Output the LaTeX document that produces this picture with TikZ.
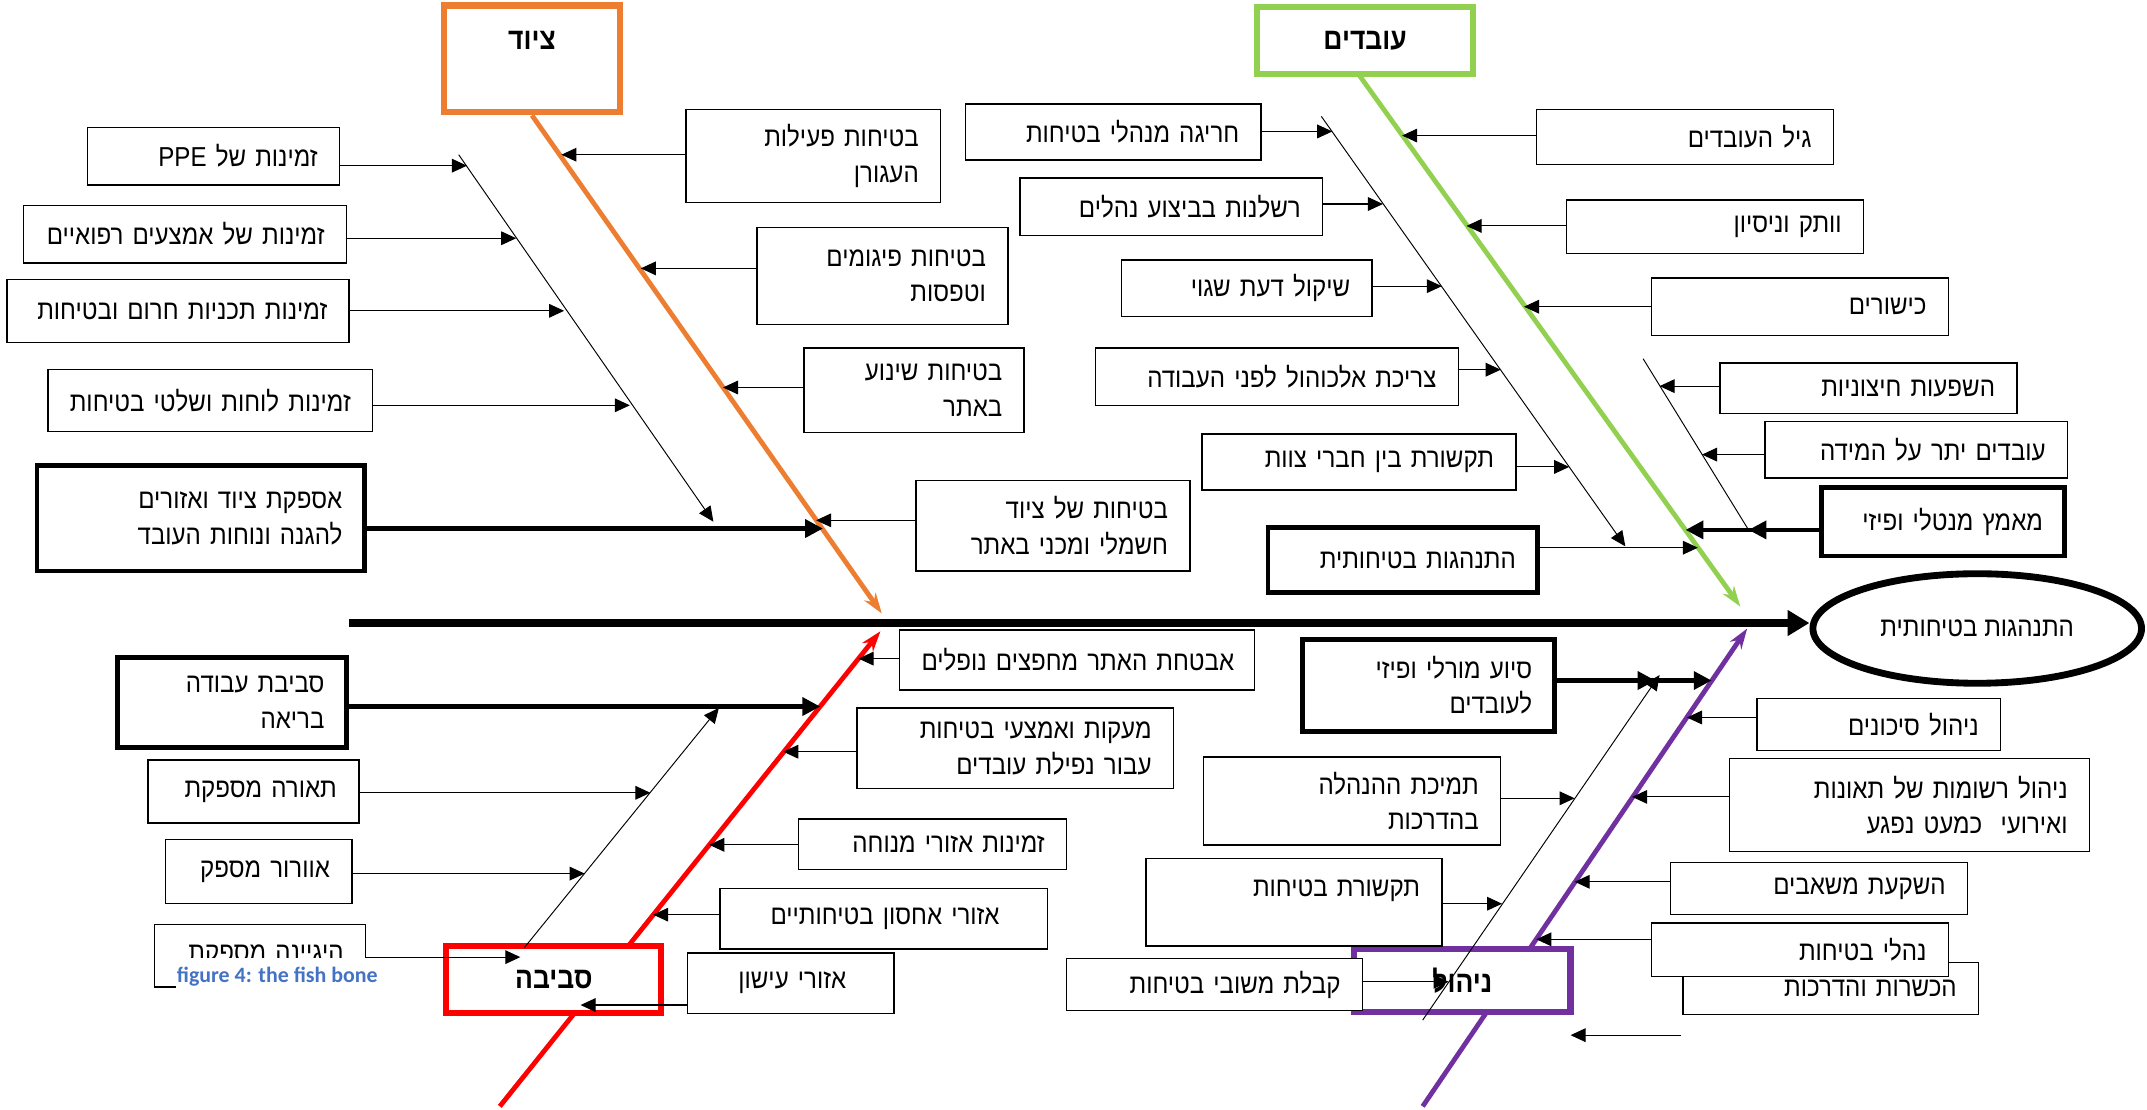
\documentclass[tikz,border=0pt]{standalone}
\usepackage{fontspec}
\setmainfont{Liberation Sans}[Script=Hebrew,FakeStretch=0.88]
\newfontfamily\capfont{Carlito}
\TeXXeTstate=1
\usetikzlibrary{arrows.meta, shapes.geometric, positioning}
\definecolor{equipOrange}{HTML}{ED7D31}
\definecolor{workGreen}{HTML}{92D050}
\definecolor{envRed}{HTML}{FF0000}
\definecolor{mgmtPurple}{HTML}{7030A0}
\definecolor{capBlue}{HTML}{4472C4}
\newcommand{\causefont}{\fontsize{20}{26}\selectfont}
\newcommand{\catfont}{\bfseries\fontsize{22}{24}\selectfont}
\newcommand{\hebtxt}[1]{\mbox{\beginR#1\endR}}

\begin{document}
\begin{tikzpicture}[x=1pt,y=-1pt,
  cause/.style 2 args={draw,line width=1.1pt,fill=white,minimum width=#1,minimum height=#2,
    text width=#1-32,inner xsep=16pt,inner ysep=2pt,align=right,font=\causefont},
  bold cause/.style 2 args={cause={#1}{#2},line width=3.5pt},
  cat/.style={draw=#1,line width=4.5pt,fill=white,font=\catfont},
  goal/.style={ellipse,draw,line width=5pt,fill=white,minimum width=240,minimum height=80,inner sep=0pt,font=\causefont},
  arr/.style={-{Triangle[length=11pt,width=10pt]},line width=0.8pt},
  fat arr/.style={-{Triangle[length=13pt,width=13pt]},line width=3pt},
  sub line/.style={line width=0.7pt},
  bone/.style={draw=#1,line width=3.5pt,-{Stealth[length=15pt,width=10pt]}},
  spine/.style={line width=6pt,-{Triangle[length=16pt,width=18pt]}},
  caption/.style={font=\capfont\bfseries\fontsize{16}{18}\selectfont,text=capBlue,fill=white,inner xsep=1pt,minimum height=26}]

\useasboundingbox (0,0) rectangle (1568,810);

% Rosh ha-dag ve-amud ha-shidra
\node[goal] (goal) at (1444,459) {\hebtxt{התנהגות בטיחותית}};
\coordinate (tail) at (255,455);
\draw[spine] (tail) -- (tail -| goal.west);

% Ha-atzamot ha-rashiyot
\coordinate (gStart) at (992,54);
\coordinate (oEnd) at (644,448);
\coordinate (gEnd) at (1271,443);
\coordinate (rStart) at (365,808);
\coordinate (rEnd) at (643,461);
\coordinate (pStart) at (1039,808);
\coordinate (pEnd) at (1276,459);

\node[cat=equipOrange,minimum width=129,minimum height=78,inner ysep=8pt,text height=24pt,text depth=38pt] (equip) at (388.5,43) {\hebtxt{ציוד}};
\node[cat=workGreen,minimum width=158,minimum height=49] (workers) at (997,29.5) {\hebtxt{עובדים}};

\draw[bone=equipOrange] (equip.south) -- (oEnd);
\draw[bone=workGreen] (gStart) -- (gEnd);
\draw[bone=envRed] (rStart) -- (rEnd);
\draw[bone=mgmtPurple] (pStart) -- (pEnd);

\node[cat=envRed,minimum width=157,minimum height=49] (environ) at (404.5,715.5) {\hebtxt{סביבה}};
\node[cat=mgmtPurple,minimum width=158,minimum height=46] (mgmt) at (1068,716) {\hebtxt{ניהול}};

% Atzamot mishniyot
\coordinate (oSubA) at (335,113);
\coordinate (oSubB) at (521,381);
\coordinate (gSubA) at (965,85);
\coordinate (gSubB) at (1187,399);
\coordinate (gSubC) at (1200,262);
\coordinate (gSubD) at (1277,387);
\coordinate (rSubA) at (383,692);
\coordinate (rSubB) at (525,517);
\coordinate (pSubA) at (1039,745);
\coordinate (pSubB) at (1212,493);
\draw[sub line,-{Triangle[length=11pt,width=10pt]}] (oSubA) -- (oSubB);
\draw[sub line,-{Triangle[length=11pt,width=10pt]}] (gSubA) -- (gSubB);
\draw[sub line] (gSubC) -- (gSubD);
\draw[sub line,-{Triangle[length=11pt,width=10pt]}] (rSubA) -- (rSubB);
\draw[sub line,-{Triangle[length=11pt,width=10pt]}] (pSubA) -- (pSubB);

% Tziyud
\node[cause={184}{42}] (ppe) at (156,114) {\hebtxt{זמינות של \beginL PPE\endL}};
\node[cause={236}{42}] (medical) at (135,171) {\hebtxt{זמינות של אמצעים רפואיים}};
\node[cause={250}{46}] (emergency) at (130,227) {\hebtxt{זמינות תכניות חרום ובטיחות}};
\node[cause={237}{45}] (signs) at (153.5,292.5) {\hebtxt{זמינות לוחות ושלטי בטיחות}};
\node[bold cause={239}{77}] (supply) at (146.5,378.5) {\hebtxt{אספקת ציוד ואזורים}\\\hebtxt{להגנה ונוחות העובד}};
\node[cause={186}{68}] (crane) at (594,114) {\hebtxt{בטיחות פעילות}\\\hebtxt{העגורן}};
\node[cause={183}{71}] (scaffold) at (644.5,201.5) {\hebtxt{בטיחות פיגומים}\\\hebtxt{וטפסות}};
\node[cause={161}{62}] (transport) at (667.5,285) {\hebtxt{בטיחות שינוע}\\\hebtxt{באתר}};
\node[cause={200}{66}] (electric) at (769,384) {\hebtxt{בטיחות של ציוד}\\\hebtxt{חשמלי ומכני באתר}};

% Ovdim
\node[cause={216}{41}] (violation) at (813,96.5) {\hebtxt{חריגה מנהלי בטיחות}};
\node[cause={221}{42}] (negligence) at (855.5,151) {\hebtxt{רשלנות בביצוע נהלים}};
\node[cause={183}{41}] (judgment) at (910.5,210.5) {\hebtxt{שיקול דעת שגוי}};
\node[cause={265}{42}] (alcohol) at (932.5,275) {\hebtxt{צריכת אלכוהול לפני העבודה}};
\node[cause={229}{41}] (teamcomm) at (992.5,337.5) {\hebtxt{תקשורת בין חברי צוות}};
\node[bold cause={197}{48}] (behavior) at (1024.5,409) {\hebtxt{התנהגות בטיחותית}};
\node[cause={217}{40}] (age) at (1230.5,100) {\hebtxt{גיל העובדים}};
\node[cause={217}{39}] (seniority) at (1252.5,165.5) {\hebtxt{וותק וניסיון}};
\node[cause={217}{42}] (skills) at (1314.5,224) {\hebtxt{כישורים}};
\node[cause={217}{37}] (external) at (1364.5,283.5) {\hebtxt{השפעות חיצוניות}};
\node[cause={221}{41}] (overwork) at (1399.5,328.5) {\hebtxt{עובדים יתר על המידה}};
\node[bold cause={178}{50}] (strain) at (1419,381) {\hebtxt{מאמץ מנטלי ופיזי}};

% Sviva
\node[bold cause={167}{66}] (healthy) at (169.5,513) {\hebtxt{סביבת עבודה}\\\hebtxt{בריאה}};
\node[cause={154}{46}] (lighting) at (185,578) {\hebtxt{תאורה מספקת}};
\node[cause={136}{47}] (ventilation) at (189,636.5) {\hebtxt{אוורור מספק}};
\node[cause={154}{46}] (hygiene) at (190,698) {\hebtxt{היגיינה מספקת}};
\node[cause={259}{44}] (falling) at (786.5,482) {\hebtxt{אבטחת האתר מחפצים נופלים}};
\node[cause={231}{59}] (railings) at (741.5,546.5) {\hebtxt{מעקות ואמצעי בטיחות}\\\hebtxt{עבור נפילת עובדים}};
\node[cause={196}{37}] (rest) at (681,616.5) {\hebtxt{זמינות אזורי מנוחה}};
\node[cause={239}{44},inner xsep=35pt,text width=169] (storage) at (645.5,671) {\hebtxt{אזורי אחסון בטיחותיים}};
\node[cause={151}{44},inner xsep=35pt,text width=81] (smoking) at (577.5,718) {\hebtxt{אזורי עישון}};

% Nihul
\node[bold cause={184}{67}] (support) at (1043,500.5) {\hebtxt{סיוע מורלי ופיזי}\\\hebtxt{לעובדים}};
\node[cause={217}{64}] (mgmtsupport) at (987.5,585) {\hebtxt{תמיכת ההנהלה}\\\hebtxt{בהדרכות}};
\node[cause={216}{64},inner ysep=6pt,text height=22pt,text depth=30pt] (safetycomm) at (945,659) {\hebtxt{תקשורת בטיחות}};
\node[cause={216}{38}] (feedback) at (887,719) {\hebtxt{קבלת משובי בטיחות}};
\node[cause={178}{38}] (risk) at (1372,529) {\hebtxt{ניהול סיכונים}};
\node[cause={263}{68}] (records) at (1394.5,588) {\hebtxt{ניהול רשומות של תאונות}\\\hebtxt{ואירועי~ כמעט נפגע}};
\node[cause={217}{38}] (resources) at (1328.5,649) {\hebtxt{השקעת משאבים}};
\node[cause={216}{38}] (training) at (1337,722) {\hebtxt{הכשרות והדרכות}};
\node[cause={217}{39}] (procedures) at (1314.5,693.5) {\hebtxt{נהלי בטיחות}};

% Nekudot ha-chitzim
\coordinate (e1) at (341,121);
\coordinate (e2) at (377,174);
\coordinate (e3) at (412,227);
\coordinate (e4) at (460,296);
\coordinate (e5) at (601,386);
\coordinate (e6) at (410,113);
\coordinate (e7) at (468,196);
\coordinate (e8) at (528,283);
\coordinate (e9) at (596,380);
\coordinate (w1) at (973,96);
\coordinate (w2) at (1010,149);
\coordinate (w3) at (1053,209);
\coordinate (w4) at (1096,270);
\coordinate (w5) at (1146,341);
\coordinate (w6) at (1240,400);
\coordinate (w7) at (1024,99);
\coordinate (w8) at (1071,165);
\coordinate (w9) at (1113,224);
\coordinate (w10) at (1212,282);
\coordinate (w11) at (1243,332);
\coordinate (w12) at (1231,387);
\coordinate (w13) at (1277,387);
\coordinate (v1) at (627,481);
\coordinate (v2) at (572,549);
\coordinate (v3) at (518,617);
\coordinate (v4) at (477,668);
\coordinate (v5) at (424,734);
\coordinate (v6) at (599,516);
\coordinate (v7) at (475,579);
\coordinate (v8) at (427,638);
\coordinate (v9) at (380,699);
\coordinate (p1) at (1250,497);
\coordinate (p1b) at (1209,497);
\coordinate (p2) at (1150,583);
\coordinate (p3) at (1097,660);
\coordinate (p4) at (1058,717);
\coordinate (p5) at (1232,524);
\coordinate (p6) at (1192,582);
\coordinate (p7) at (1150,644);
\coordinate (p8) at (1122,686);
\coordinate (s1) at (1228,756);
\coordinate (s2) at (1147,756);

% Chitzim - tziyud
\draw[arr] (ppe.east |- e1) -- (e1);
\draw[arr] (medical.east |- e2) -- (e2);
\draw[arr] (emergency.east |- e3) -- (e3);
\draw[arr] (signs.east |- e4) -- (e4);
\draw[fat arr] (supply.east |- e5) -- (e5);
\draw[arr] (crane.west |- e6) -- (e6);
\draw[arr] (scaffold.west |- e7) -- (e7);
\draw[arr] (transport.west |- e8) -- (e8);
\draw[arr] (electric.west |- e9) -- (e9);

% Chitzim - ovdim
\draw[arr] (violation.east |- w1) -- (w1);
\draw[arr] (negligence.east |- w2) -- (w2);
\draw[arr] (judgment.east |- w3) -- (w3);
\draw[arr] (alcohol.east |- w4) -- (w4);
\draw[arr] (teamcomm.east |- w5) -- (w5);
\draw[arr] (behavior.east |- w6) -- (w6);
\draw[arr] (age.west |- w7) -- (w7);
\draw[arr] (seniority.west |- w8) -- (w8);
\draw[arr] (skills.west |- w9) -- (w9);
\draw[arr] (external.west |- w10) -- (w10);
\draw[arr] (overwork.west |- w11) -- (w11);
\draw[fat arr] (strain.west |- w12) -- (w13);
\draw[fat arr] (strain.west |- w12) -- (w12);

% Chitzim - sviva
\draw[arr] (falling.west |- v1) -- (v1);
\draw[arr] (railings.west |- v2) -- (v2);
\draw[arr] (rest.west |- v3) -- (v3);
\draw[arr] (storage.west |- v4) -- (v4);
\draw[arr] (smoking.west |- v5) -- (v5);
\draw[fat arr] (healthy.east |- v6) -- (v6);
\draw[arr] (lighting.east |- v7) -- (v7);
\draw[arr] (ventilation.east |- v8) -- (v8);
\draw[arr] (hygiene.east |- v9) -- (v9);

% Chitzim - nihul
\draw[fat arr] (support.east |- p1) -- (p1b);
\draw[fat arr] (support.east |- p1) -- (p1);
\draw[arr] (mgmtsupport.east |- p2) -- (p2);
\draw[arr] (safetycomm.east |- p3) -- (p3);
\draw[arr] (feedback.east |- p4) -- (p4);
\draw[arr] (risk.west |- p5) -- (p5);
\draw[arr] (records.west |- p6) -- (p6);
\draw[arr] (resources.west |- p7) -- (p7);
\draw[arr] (procedures.west |- p8) -- (p8);
\draw[arr] (s1) -- (s2);

\node[caption,anchor=west] (figcap) at (128,713) {figure 4: the fish bone};
\end{tikzpicture}
\end{document}
